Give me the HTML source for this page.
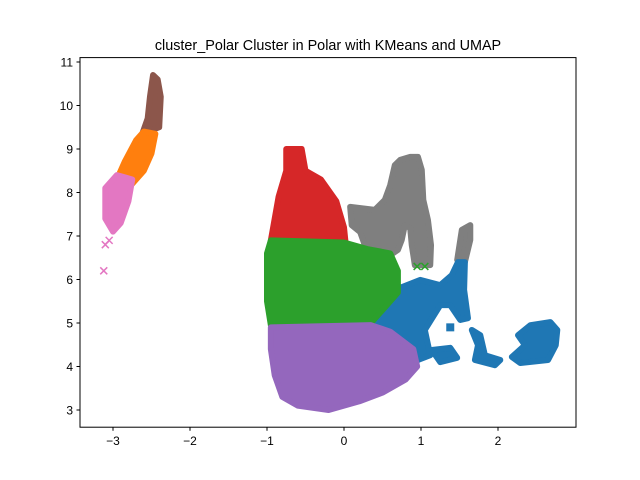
<!DOCTYPE html>
<html><head><meta charset="utf-8"><style>
html,body{margin:0;padding:0;background:#fff;}
svg{display:block;font-family:"Liberation Sans","DejaVu Sans",sans-serif;}
</style></head><body>
<svg id="chart" width="640" height="480" viewBox="0 0 640 480" xmlns="http://www.w3.org/2000/svg">
<rect width="640" height="480" fill="#fff"/>
<text x="328" y="50" text-anchor="middle" font-size="14.4">cluster_Polar Cluster in Polar with KMeans and UMAP</text>
<g id="marks"></g>
<rect x="80" y="57.6" width="496" height="369.6" fill="none" stroke="#000" stroke-width="1"/>
<g id="axes"></g>
</svg>
<script>
const xTicks = [-3, -2, -1, 0, 1, 2];
const yTicks = [3, 4, 5, 6, 7, 8, 9, 10, 11];
const clusterNames = ["brown","orange","pink","red","gray","gray-small","blue-main","blue-bit","blue-tail","blue-blob","green","purple"];
const clusterColors = ["#8c564b","#ff7f0e","#e377c2","#d62728","#7f7f7f","#7f7f7f","#1f77b4","#1f77b4","#1f77b4","#1f77b4","#2ca02c","#9467bd"];
const brownX=[-2.62,-2.55,-2.52,-2.48,-2.42,-2.38,-2.4], brownY=[9.35,9.7,10.2,10.7,10.6,10.2,9.5];
const orangeX=[-2.95,-2.85,-2.7,-2.6,-2.45,-2.5,-2.6,-2.75,-2.9], orangeY=[8.3,8.7,9.2,9.4,9.35,8.9,8.5,8.2,8.1];
const pinkX=[-3.1,-3.1,-2.95,-2.75,-2.8,-2.9,-3.0], pinkY=[7.4,8.1,8.4,8.3,7.8,7.3,7.1];
const redX=[-0.95,-0.85,-0.75,-0.75,-0.55,-0.5,-0.3,-0.1,0.0,0.02], redY=[6.9,7.9,8.5,9.0,9.0,8.5,8.3,7.8,7.2,6.85];
const grayX=[0.08,0.40,0.53,0.60,0.66,0.73,0.86,0.96,1.01,1.03,1.09,1.13,1.12,0.92,0.88,0.86,0.79,0.75,0.70,0.60,0.40,0.27,0.21,0.10];
const grayY=[7.67,7.60,7.83,8.17,8.63,8.75,8.82,8.82,8.52,7.83,7.37,6.79,6.33,6.33,6.79,7.18,7.25,6.91,6.68,6.56,6.68,6.79,7.09,7.25];
const graySmallX=[1.47,1.53,1.64,1.64,1.57], graySmallY=[6.45,7.14,7.25,6.91,6.40];
const blueX=[0.01,0.34,0.66,0.99,1.25,1.40,1.48,1.57,1.56,1.61,1.51,1.38,1.25,1.05,1.12,0.96,0.86,0.73,0.47];
const blueY=[4.95,5.18,5.76,5.99,5.87,6.10,6.40,6.40,5.76,5.11,5.07,5.41,5.41,4.84,4.26,4.15,3.92,4.26,4.61];
const blueBitX=[1.14,1.38,1.47,1.25], blueBitY=[4.38,4.43,4.20,4.10];
const blueTailX=[1.66,1.77,1.83,2.03,1.96,1.70,1.74], blueTailY=[4.84,4.72,4.26,4.15,4.03,4.15,4.49];
const blueBlobX=[2.18,2.35,2.26,2.42,2.68,2.77,2.75,2.65,2.29], blueBlobY=[4.22,4.49,4.72,4.95,5.02,4.84,4.49,4.15,4.08];
const greenX=[-1.0,-0.95,0.0,0.3,0.6,0.7,0.7,0.5,0.35,-0.95,-1.0], greenY=[6.6,6.9,6.85,6.7,6.6,6.2,5.7,5.3,5.0,4.95,5.5];
const purpleX=[-0.95,0.35,0.6,0.9,0.95,0.8,0.5,0.2,-0.2,-0.6,-0.8,-0.9,-0.95], purpleY=[4.9,4.95,4.8,4.4,4.0,3.7,3.4,3.2,3.0,3.1,3.3,3.8,4.4];
const polysX=[brownX,orangeX,pinkX,redX,grayX,graySmallX,blueX,blueBitX,blueTailX,blueBlobX,greenX,purpleX];
const polysY=[brownY,orangeY,pinkY,redY,grayY,graySmallY,blueY,blueBitY,blueTailY,blueBlobY,greenY,purpleY];
const outlierX=[-3.1,-3.05,-3.12,0.95,1.05], outlierY=[6.8,6.9,6.2,6.3,6.3];
const outlierColors=["#e377c2","#e377c2","#e377c2","#2ca02c","#2ca02c"];
const squareX=[1.38], squareY=[4.9];

const NS="http://www.w3.org/2000/svg";
const xs=v=>344+(v)*77;
const ys=v=>62+(11-v)*43.5;
const marks=document.getElementById('marks');
const axes=document.getElementById('axes');
polysX.forEach((px,i)=>{
  const p=document.createElementNS(NS,'polygon');
  p.setAttribute('points',px.map((x,j)=>xs(x)+','+ys(polysY[i][j])).join(' '));
  p.setAttribute('fill',clusterColors[i]);
  p.setAttribute('stroke',clusterColors[i]);
  p.setAttribute('stroke-width','6');
  p.setAttribute('stroke-linejoin','round');
  
  
  marks.appendChild(p);
});
outlierX.forEach((x,i)=>{
  const cx=xs(x), cy=ys(outlierY[i]);
  const g=document.createElementNS(NS,'path');
  g.setAttribute('d',`M${cx-3.5},${cy-3.5}L${cx+3.5},${cy+3.5}M${cx-3.5},${cy+3.5}L${cx+3.5},${cy-3.5}`);
  g.setAttribute('stroke',outlierColors[i]);
  g.setAttribute('stroke-width','1.5');
  
  
  marks.appendChild(g);
});
squareX.forEach((x,i)=>{
  const r=document.createElementNS(NS,'rect');
  r.setAttribute('x',xs(x)-4);r.setAttribute('y',ys(squareY[i])-4);
  r.setAttribute('width',8);r.setAttribute('height',8);r.setAttribute('fill','#1f77b4');
  
  
  marks.appendChild(r);
});
xTicks.forEach(t=>{
  const x=xs(t);
  const l=document.createElementNS(NS,'line');
  l.setAttribute('x1',x);l.setAttribute('x2',x);l.setAttribute('y1',427.2);l.setAttribute('y2',430.7);l.setAttribute('stroke','#000');
  
  
  axes.appendChild(l);
  const tx=document.createElementNS(NS,'text');
  tx.setAttribute('x',x);tx.setAttribute('y',445);tx.setAttribute('text-anchor','middle');tx.setAttribute('font-size','12');
  tx.textContent=t<0?'\u2212'+Math.abs(t):String(t);
  
  
  axes.appendChild(tx);
});
yTicks.forEach(t=>{
  const y=ys(t);
  const l=document.createElementNS(NS,'line');
  l.setAttribute('x1',76.5);l.setAttribute('x2',80);l.setAttribute('y1',y);l.setAttribute('y2',y);l.setAttribute('stroke','#000');
  
  
  axes.appendChild(l);
  const tx=document.createElementNS(NS,'text');
  tx.setAttribute('x',73);tx.setAttribute('y',y+4.5);tx.setAttribute('text-anchor','end');tx.setAttribute('font-size','12');
  tx.textContent=String(t);
  
  
  axes.appendChild(tx);
});
</script>
</body></html>
